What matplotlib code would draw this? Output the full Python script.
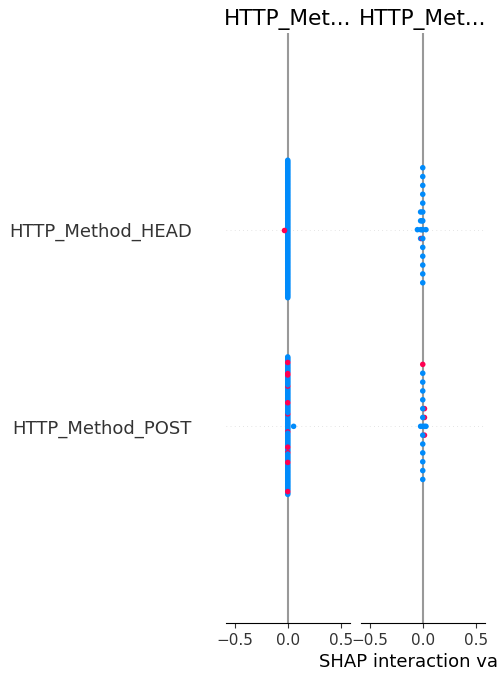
import numpy as np
import matplotlib
matplotlib.use("Agg")
import matplotlib.pyplot as plt
from matplotlib.colors import LinearSegmentedColormap

# ---------------- data ----------------
features = ["HTTP_Method_HEAD", "HTTP_Method_POST"]
xticks = [-0.5, 0.0, 0.5]
xlim_abs = 0.58
xlabel = "SHAP interaction value"

# column 1 (interactions with HTTP_Method_HEAD)
c1_head_shap = [0.0, -0.035]
c1_head_count = [100, 1]
c1_head_high_front = [100]
c1_head_high_back = []

c1_post_shap = [0.0, 0.055]
c1_post_count = [100, 1]
c1_post_high_front = [30, 33, 52, 75, 91, 94]
c1_post_high_back = [8, 17, 38, 57, 73]

# column 2 (interactions with HTTP_Method_POST)
c2_head_shap = [-0.05, -0.02, -0.006, 0.03, 0.0]
c2_head_count = [1, 4, 3, 1, 14]
c2_head_high_front = []
c2_head_high_back = [7]

c2_post_shap = [-0.02, 0.03, 0.016, 0.0]
c2_post_count = [1, 1, 4, 14]
c2_post_high_front = []
c2_post_high_back = [3, 4, 5, 19]

columns = [
    [(c1_head_shap, c1_head_count, c1_head_high_front, c1_head_high_back),
     (c1_post_shap, c1_post_count, c1_post_high_front, c1_post_high_back)],
    [(c2_head_shap, c2_head_count, c2_head_high_front, c2_head_high_back),
     (c2_post_shap, c2_post_count, c2_post_high_front, c2_post_high_back)],
]

# ---------------- style ----------------
blue = (0.0, 0.545, 0.984)
red = (1.0, 0.0, 0.318)
cmap = LinearSegmentedColormap.from_list("red_blue", [blue, (0.55, 0.25, 0.75), red])
axis_color = "#333333"


def shorten_text(text, limit):
    return text[: limit - 3] + "..." if len(text) > limit else text


def beeswarm_offsets(shaps, row_height=0.4, nbins=100):
    quant = np.round(nbins * (shaps - shaps.min()) / (shaps.max() - shaps.min() + 1e-8))
    inds = np.argsort(quant, kind="stable")
    ys = np.zeros(len(shaps))
    layer, last_bin = 0, -1
    for ind in inds:
        if quant[ind] != last_bin:
            layer = 0
        ys[ind] = np.ceil(layer / 2) * ((layer % 2) * 2 - 1)
        layer += 1
        last_bin = quant[ind]
    ys *= 0.9 * (row_height / np.max(ys + 1))
    return ys


W, H = 497, 680
fig = plt.figure(figsize=(W / 100, H / 100), dpi=100)
lefts = [226, 361]
ax_w = 123.5
bottom_px, top_px = 623, 33
axes = []
for ci, left in enumerate(lefts):
    ax = fig.add_axes([left / W, 1 - bottom_px / H, ax_w / W, (bottom_px - top_px) / H])
    axes.append(ax)
    n = len(features)
    ax.axvline(x=0, color="#999999", zorder=-1, lw=1.5)
    for ri, row in enumerate(columns[ci]):
        pos = n - 1 - ri
        ax.axhline(y=pos, color="#cccccc", lw=0.5, dashes=(1, 5), zorder=-1)
        vals, counts, hi_front, hi_back = row
        shaps = np.repeat(np.array(vals, dtype=float), counts)
        fvals = np.zeros(len(shaps))
        fvals[list(hi_front) + list(hi_back)] = 1.0
        ys = beeswarm_offsets(shaps)
        front = np.zeros(len(shaps), dtype=bool)
        front[list(hi_front)] = True
        for mask in (~front, front):
            if mask.any():
                ax.scatter(shaps[mask], pos + ys[mask], c=fvals[mask], cmap=cmap,
                           vmin=0, vmax=1, s=16, linewidth=0, zorder=3)
    ax.set_ylim(-1, n)
    ax.set_xlim(-xlim_abs, xlim_abs)
    ax.set_xticks(xticks)
    ax.tick_params(axis="x", labelsize=11, color=axis_color, labelcolor=axis_color)
    for s in ("left", "right", "top"):
        ax.spines[s].set_visible(False)
    ax.set_yticks(range(n))
    if ci == 0:
        ax.set_yticklabels(features[::-1], fontsize=13, color=axis_color)
        ax.tick_params(axis="y", length=0, pad=24.5)
    else:
        ax.set_yticklabels([])
        ax.tick_params(axis="y", length=0)
    ax.set_title(shorten_text(features[ci], 11), fontsize=15.6)

axes[1].set_xlabel(xlabel, fontsize=13)

fig.savefig("out.png", dpi=100)
